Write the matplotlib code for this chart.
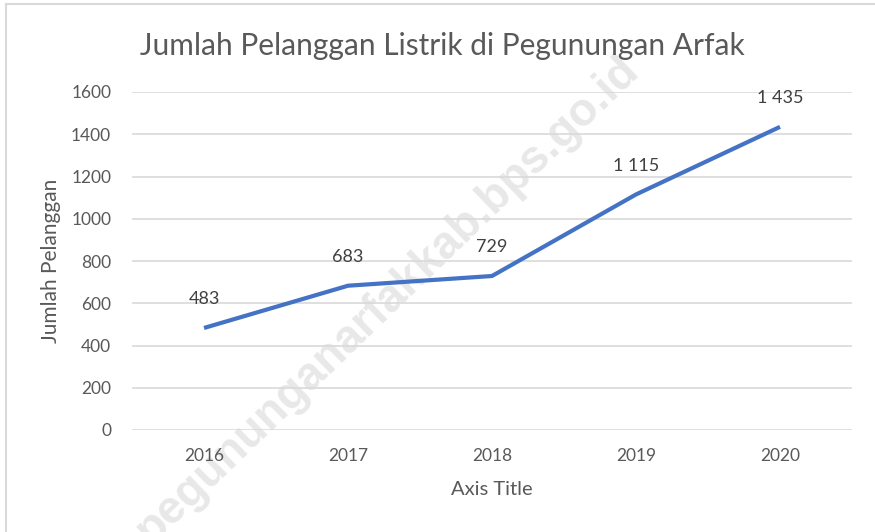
import matplotlib.pyplot as plt
from matplotlib.lines import Line2D

years = ['2016', '2017', '2018', '2019', '2020']
customers = [483, 683, 729, 1115, 1435]
labels = ['483', '683', '729', '1 115', '1 435']
yticks = [0, 200, 400, 600, 800, 1000, 1200, 1400, 1600]

plt.rcParams['font.family'] = ['Lato', 'DejaVu Sans']
txt = '#595959'

fig = plt.figure(figsize=(8.75, 5.32), dpi=100)
ax = fig.add_axes([132 / 875, 1 - 430 / 532, 720 / 875, 338 / 532])
ax.patch.set_alpha(0)

x = list(range(len(years)))
ax.plot(x, customers, color='#4472C4', lw=3.0, solid_capstyle='butt', zorder=3)
for xi, v, s in zip(x, customers, labels):
    ax.annotate(s, (xi, v), xytext=(0, 15), textcoords='offset points',
                ha='center', va='bottom', fontsize=13, color='#404040', zorder=4)

ax.set_xlim(-0.5, len(years) - 0.5)
ax.set_ylim(0, 1600)
ax.set_yticks(yticks)
ax.set_xticks(x)
ax.set_xticklabels(years)
ax.tick_params(length=0, labelsize=12.5, colors=txt)
ax.tick_params(axis='y', pad=15)
ax.tick_params(axis='x', pad=13)
ax.grid(axis='y', color='#d9d9d9', lw=1.2)
ax.set_axisbelow(True)
for sp in ax.spines.values():
    sp.set_visible(False)

fig.text(442 / 875, 1 - 55 / 532, 'Jumlah Pelanggan Listrik di Pegunungan Arfak',
         fontsize=21.5, color=txt, ha='center', va='baseline')
ax.set_ylabel('Jumlah Pelanggan', fontsize=15, color=txt, labelpad=7)
ax.set_xlabel('Axis Title', fontsize=14.5, color=txt, labelpad=12)

# watermark, kept under the axis labels and the line
ax.text(388 / 875, 1 - 300 / 532, 'pegununganarfakkab.bps.go.id',
        transform=fig.transFigure, rotation=44, ha='center', va='center',
        fontsize=33, fontweight='bold', family='Liberation Sans',
        color='#e8e8e8', zorder=0.3, rotation_mode='anchor', clip_on=False)

# chart border (top and left)
fig.add_artist(Line2D([6 / 875, 1], [1 - 4 / 532] * 2, color='#d9d9d9', lw=1.5))
fig.add_artist(Line2D([6 / 875] * 2, [0, 1 - 4 / 532], color='#d9d9d9', lw=1.5))

fig.savefig('out.png', dpi=100)
